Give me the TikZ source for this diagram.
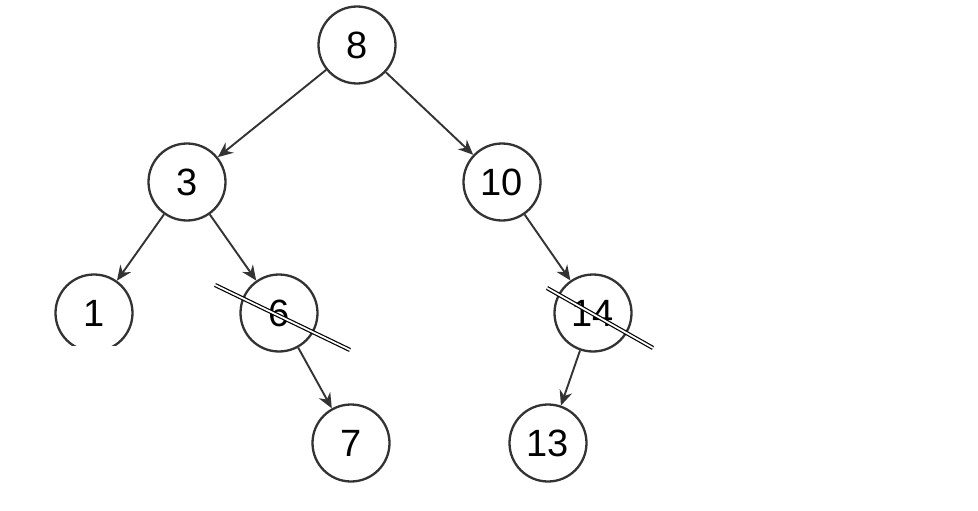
\documentclass[tikz,border=0pt]{standalone}
\usepackage{fontspec}
\setmainfont{Liberation Sans}
\usetikzlibrary{arrows.meta}
\begin{document}
\begin{tikzpicture}[x=1pt,y=-1pt,
  treenode/.style={circle,draw=black!80,line width=2.3pt,minimum size=77pt,inner sep=0pt,font=\fontsize{38}{38}\selectfont},
  edge/.style={draw=black!80,line width=1.9pt,-{Stealth[length=15pt,width=13pt]}},
  strike/.style={draw=black,double=white,line width=1.2pt,double distance=1.8pt}]
\useasboundingbox (0,0) rectangle (978,511);
\node[treenode] (n8) at (357,45) {8};
\node[treenode] (n3) at (187,182) {3};
\node[treenode] (n10) at (502,182) {10};
\node[treenode] (n1) at (94,313) {1};
\node[treenode] (n6) at (279,313) {6};
\node[treenode] (n14) at (593,313) {14};
\node[treenode] (n7) at (351,443) {7};
\node[treenode] (n13) at (548,443) {13};
\draw[edge] (n8) -- (n3);
\draw[edge] (n8) -- (n10);
\draw[edge] (n3) -- (n1);
\draw[edge] (n3) -- (n6);
\draw[edge] (n10) -- (n14);
\draw[edge] (n6) -- (n7);
\draw[edge] (n14) -- (n13);
\fill[white] (35,346) rectangle (246,395);
\coordinate (s6a) at (215,285);
\coordinate (s6b) at (350,350);
\coordinate (s14a) at (547,288);
\coordinate (s14b) at (653,348);
\draw[strike] (s6a) -- (s6b);
\draw[strike] (s14a) -- (s14b);
\end{tikzpicture}
\end{document}
